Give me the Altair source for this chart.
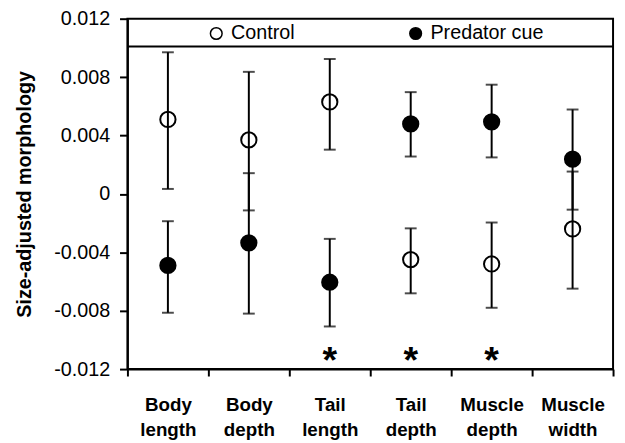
import altair as alt
import pandas as pd

categories = ["Body length", "Body depth", "Tail length", "Tail depth", "Muscle depth", "Muscle width"]
treatments = ["Control", "Predator cue"]

control_mean = [0.0051, 0.0037, 0.0063, -0.0045, -0.0048, -0.0024]
control_lo = [0.00034, -0.00113, 0.00303, -0.00681, -0.0078, -0.00649]
control_hi = [0.0097, 0.00836, 0.00924, -0.00236, -0.00196, 0.00153]

pred_mean = [-0.0049, -0.00335, -0.00605, 0.00479, 0.00494, 0.00238]
pred_lo = [-0.00814, -0.0082, -0.00908, 0.00256, 0.0025, -0.00108]
pred_hi = [-0.00187, 0.00142, -0.00308, 0.00697, 0.00748, 0.00578]

star_categories = ["Tail length", "Tail depth", "Muscle depth"]
star_y = [-0.0109, -0.0109, -0.0109]

legend_line_y = [0.0101]

y_ticks = [-0.012, -0.010, -0.008, -0.006, -0.004, -0.002, 0.0,
           0.002, 0.004, 0.006, 0.008, 0.010, 0.012]

rows = []
for i, c in enumerate(categories):
    rows.append({"category": c, "treatment": "Control", "mean": control_mean[i],
                 "lo": control_lo[i], "hi": control_hi[i]})
    rows.append({"category": c, "treatment": "Predator cue", "mean": pred_mean[i],
                 "lo": pred_lo[i], "hi": pred_hi[i]})
df = pd.DataFrame(rows)
stars = pd.DataFrame({"category": star_categories, "y": star_y})
line_df = pd.DataFrame({"y": legend_line_y})

FONT = "Liberation Sans"
TITLE = "Size-adjusted morphology"

xscale = alt.Scale(domain=categories, paddingInner=0, paddingOuter=0)
yscale = alt.Scale(domain=[-0.012, 0.012], nice=False, zero=False)

x_enc = alt.X(
    "category:N", sort=categories, scale=xscale, title=None,
    axis=alt.Axis(
        labelAngle=0,
        labelExpr="split(datum.label, ' ')",
        tickBand="extent",
        labelFontWeight="bold",
        labelFontSize=19,
        labelLineHeight=25,
        labelBaseline="top",
        labelPadding=20,
        tickSize=7,
    ),
)

y_axis = alt.Axis(
    values=y_ticks,
    labelExpr="round(datum.value*1000) % 4 != 0 ? '' : (abs(datum.value) < 1e-9 ? '0' : ((datum.value < 0 ? '-' : '') + format(abs(datum.value), '.3f')))",
    tickSize=8,
    labelPadding=10,
    labelFontSize=20,
    titlePadding=19,
    titleFontSize=20,
    titleFontWeight="bold",
)

base = alt.Chart(df)

bars = base.mark_rule(color="black", strokeWidth=2).encode(
    x=x_enc,
    y=alt.Y("lo:Q", scale=yscale, axis=y_axis, title=TITLE),
    y2="hi:Q",
)

cap_lo = base.mark_tick(color="black", size=12, thickness=2).encode(
    x=x_enc, y=alt.Y("lo:Q", title=TITLE)
)
cap_hi = base.mark_tick(color="black", size=12, thickness=2).encode(
    x=x_enc, y=alt.Y("hi:Q", title=TITLE)
)

points = base.mark_point(
    shape="circle", size=240, strokeWidth=2, stroke="black", filled=True, opacity=1
).encode(
    x=x_enc,
    y=alt.Y("mean:Q", title=TITLE),
    fill=alt.Fill(
        "treatment:N",
        scale=alt.Scale(domain=treatments, range=["transparent", "black"]),
        legend=alt.Legend(
            title=None,
            orient="none",
            legendX=80,
            legendY=5,
            direction="horizontal",
            symbolType="circle",
            symbolSize=140,
            symbolStrokeColor="black",
            symbolStrokeWidth=1.5,
            labelFontSize=20,
            labelFont=FONT,
            labelColor="black",
            labelOffset=5,
            columnPadding=112,
            padding=0,
        ),
    ),
)

star_text = alt.Chart(stars).mark_text(
    text="*", fontSize=38, fontWeight="bold", font=FONT, color="black",
    baseline="alphabetic", dy=20,
).encode(x=x_enc, y=alt.Y("y:Q", title=TITLE))

legend_line = alt.Chart(line_df).mark_rule(color="black", strokeWidth=2).encode(
    y=alt.Y("y:Q", title=TITLE)
)

chart = alt.layer(bars, cap_lo, cap_hi, points, star_text, legend_line).properties(
    width=492,
    height=355,
    padding={"left": 121, "top": 8, "right": 4, "bottom": 70},
    autosize=alt.AutoSizeParams(type="none"),
    background="white",
).configure_view(
    stroke="black", strokeWidth=2
).configure_axis(
    grid=False,
    domainColor="black",
    domainWidth=2,
    tickColor="black",
    tickWidth=2,
    labelColor="black",
    titleColor="black",
    labelFont=FONT,
    titleFont=FONT,
)

chart.save("out.html", embed_options={"renderer": "svg", "actions": False})
